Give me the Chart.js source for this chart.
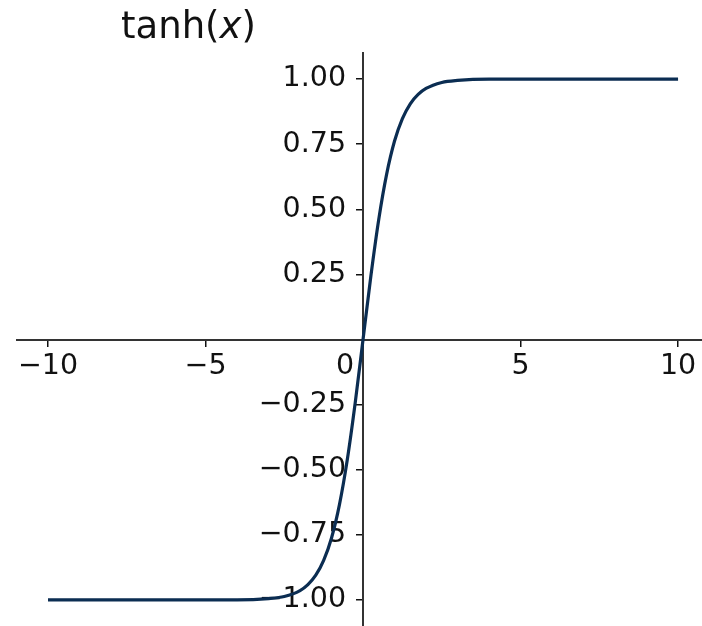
<!DOCTYPE html>
<html>
<head>
<meta charset="utf-8">
<script src="https://cdn.jsdelivr.net/npm/chart.js@4/dist/chart.umd.min.js"></script>
<style>
    html, body { margin: 0; padding: 0; background: #fff; overflow: hidden; }
    #wrap { position: relative; width: 702px; height: 626px; }
    #title {
        position: absolute; left: 121px; top: 7px;
        font-family: 'DejaVu Sans', sans-serif; font-size: 37px; line-height: 1;
        color: #111;
    }
</style>
</head>
<body>
<div id="wrap">
    <canvas id="chart"></canvas>
    <div id="title">tanh(<i>x</i>)</div>
</div>
<script>
// tanh(x)
const xValues = [-10, -8, -6, -4, -3, -2.5, -2, -1.75, -1.5, -1.25, -1, -0.75, -0.5, -0.25, 0,
                 0.25, 0.5, 0.75, 1, 1.25, 1.5, 1.75, 2, 2.5, 3, 4, 6, 8, 10];
const yValues = [-1.00, -1.00, -1.00, -1.00, -0.995, -0.987, -0.964, -0.941, -0.905, -0.848, -0.762, -0.635, -0.462, -0.245, 0,
                 0.245, 0.462, 0.635, 0.762, 0.848, 0.905, 0.941, 0.964, 0.987, 0.995, 1.00, 1.00, 1.00, 1.00];

const xTicks = [-10, -5, 0, 5, 10];
const yTicks = [-1, -0.75, -0.5, -0.25, 0.25, 0.5, 0.75, 1];

const FONT = "'DejaVu Sans', sans-serif";
const LINE_COLOR = '#0b2d52';

Chart.defaults.font.family = FONT;
Chart.defaults.font.size = 28.5;
Chart.defaults.color = '#111';

function minusSign(s) {
    return String(s).replace('-', '\u2212');
}

function noPadding(scale) {
    scale.paddingTop = 0;
    scale.paddingBottom = 0;
    scale.paddingLeft = 0;
    scale.paddingRight = 0;
}

// matplotlib-style label placement around the centred spines
const labelShift = {
    id: 'labelShift',
    beforeDraw(chart) {
        const xs = chart.scales.x;
        const ys = chart.scales.y;
        const x0 = xs.getPixelForValue(0);
        ys.getLabelItems().forEach(item => {
            item.options.translation[0] = x0 - 17;
            item.options.textAlign = 'right';
        });
        xs.getLabelItems().forEach(item => {
            if (item.label === '0') item.options.translation[0] -= 18;
        });
    }
};

const ctx = document.getElementById('chart').getContext('2d');
new Chart(ctx, {
    type: 'line',
    data: {
        datasets: [{
            label: 'tanh(x)',
            data: xValues.map((x, i) => ({ x: x, y: yValues[i] })),
            borderColor: LINE_COLOR,
            borderWidth: 3.2,
            pointRadius: 0,
            cubicInterpolationMode: 'monotone',
            fill: false
        }]
    },
    options: {
        responsive: true,
        maintainAspectRatio: false,
        animation: false,
        layout: { padding: { left: 16.5, top: 53, right: 0, bottom: 0 } },
        plugins: {
            legend: { display: false },
            title: { display: false },
            tooltip: { enabled: false }
        },
        scales: {
            x: {
                type: 'linear',
                position: { y: 0 },
                min: -11,
                max: 10.76,
                afterBuildTicks: (scale) => { scale.ticks = xTicks.map(v => ({ value: v })); },
                afterFit: noPadding,
                grid: { drawOnChartArea: false, drawTicks: true, tickLength: 6, color: '#111', lineWidth: 1.5 },
                border: { display: true, color: '#333', width: 2 },
                ticks: {
                    padding: 4,
                    maxRotation: 0,
                    autoSkip: false,
                    callback: (v) => minusSign(v)
                }
            },
            y: {
                type: 'linear',
                position: { x: 0 },
                min: -1.1,
                max: 1.1,
                afterBuildTicks: (scale) => { scale.ticks = yTicks.map(v => ({ value: v })); },
                afterFit: noPadding,
                grid: { drawOnChartArea: false, drawTicks: true, tickLength: 6, color: '#111', lineWidth: 1.5 },
                border: { display: true, color: '#333', width: 2 },
                ticks: {
                    autoSkip: false,
                    callback: (v) => minusSign(Number(v).toFixed(2))
                }
            }
        }
    },
    plugins: [labelShift]
});
</script>
</body>
</html>
